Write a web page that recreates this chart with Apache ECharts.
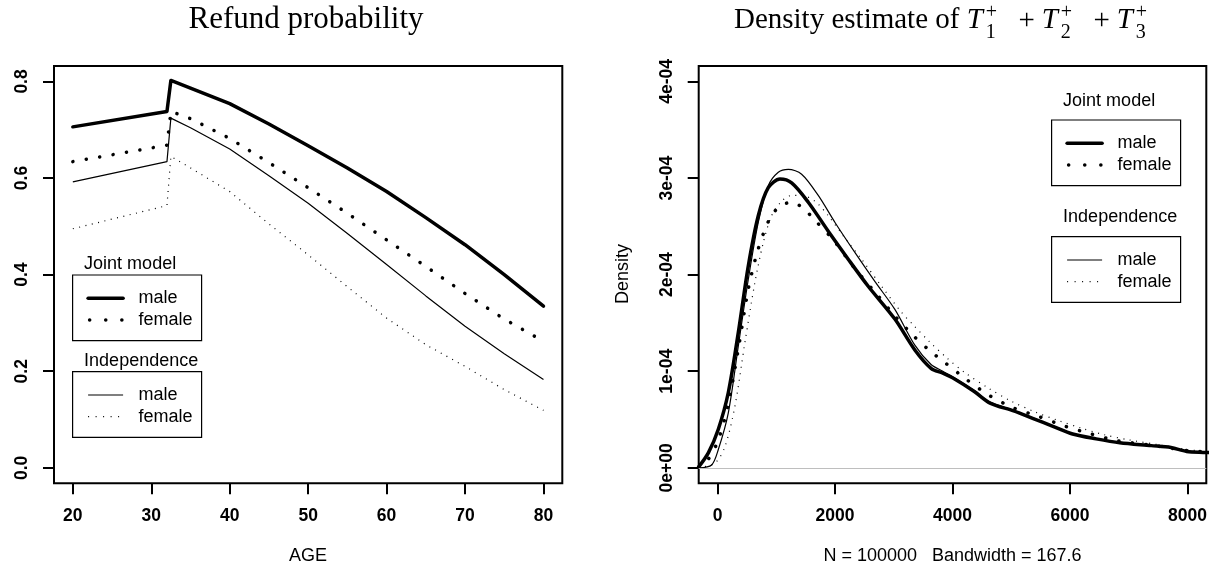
<!DOCTYPE html>
<html><head><meta charset="utf-8">
<script src="https://cdn.jsdelivr.net/npm/echarts@6/dist/echarts.min.js"></script>
<style>html,body{margin:0;padding:0;background:#fff}#c{width:1218px;height:575px}</style>
</head><body><div id="c"></div>
<script>
// ---------- data ----------
const ageTicks = [20, 30, 40, 50, 60, 70, 80];
const probTicks = [0, 0.2, 0.4, 0.6, 0.8];
const probTickLabels = ['0.0', '0.2', '0.4', '0.6', '0.8'];
const amountTicks = [0, 2000, 4000, 6000, 8000];
const amountTickLabels = ['0', '2000', '4000', '6000', '8000'];
const densityTicks = [0, 1e-4, 2e-4, 3e-4, 4e-4];
const densityTickLabels = ['0e+00', '1e-04', '2e-04', '3e-04', '4e-04'];

const ages = [20, 32, 32.5, 35, 40, 45, 50, 55, 60, 65, 70, 75, 80];
const refundJointMale   = [0.706, 0.738, 0.802, 0.786, 0.754, 0.712, 0.667, 0.621, 0.572, 0.518, 0.462, 0.400, 0.335];
const refundJointFemale = [0.634, 0.668, 0.738, 0.723, 0.682, 0.632, 0.580, 0.527, 0.472, 0.417, 0.361, 0.308, 0.262];
const refundIndMale     = [0.592, 0.634, 0.724, 0.704, 0.660, 0.605, 0.548, 0.485, 0.421, 0.356, 0.293, 0.236, 0.183];
const refundIndFemale   = [0.495, 0.543, 0.645, 0.621, 0.572, 0.505, 0.441, 0.375, 0.310, 0.255, 0.210, 0.162, 0.119];

const densJointMale = [[-320,0.01e-4],[-156,0.155e-4],[14,0.40e-4],[184,0.78e-4],[354,1.40e-4],[524,2.09e-4],[694,2.61e-4],[864,2.90e-4],[1063,2.99e-4],[1262,2.95e-4],[1545,2.75e-4],[1885,2.45e-4],[2225,2.16e-4],[2565,1.88e-4],[3019,1.54e-4],[3359,1.22e-4],[3635,1.03e-4],[3835,0.98e-4],[4036,0.92e-4],[4371,0.79e-4],[4639,0.67e-4],[5040,0.59e-4],[5375,0.51e-4],[5710,0.43e-4],[6044,0.35e-4],[6446,0.30e-4],[6847,0.26e-4],[7383,0.23e-4],[7718,0.21e-4],[7985,0.17e-4],[8320,0.16e-4],[8500,0.15e-4]];
const densIndMale = [[-320,0],[-100,0.03e-4],[14,0.19e-4],[184,0.57e-4],[354,1.26e-4],[524,1.95e-4],[694,2.54e-4],[864,2.92e-4],[1035,3.06e-4],[1205,3.09e-4],[1432,3.04e-4],[1715,2.82e-4],[2000,2.54e-4],[2338,2.23e-4],[2678,1.93e-4],[3019,1.64e-4],[3359,1.27e-4],[3635,1.07e-4],[3835,1.00e-4],[4036,0.93e-4],[4371,0.80e-4],[4639,0.68e-4],[5040,0.595e-4],[5375,0.515e-4],[5710,0.435e-4],[6044,0.355e-4],[6446,0.30e-4],[6847,0.265e-4],[7383,0.23e-4],[7718,0.21e-4],[7985,0.175e-4],[8320,0.16e-4],[8500,0.15e-4]];
const densJointFemale = [[-320,0.005e-4],[-156,0.09e-4],[14,0.29e-4],[184,0.66e-4],[354,1.23e-4],[524,1.85e-4],[666,2.21e-4],[808,2.47e-4],[921,2.61e-4],[1063,2.71e-4],[1273,2.75e-4],[1488,2.67e-4],[1647,2.57e-4],[1970,2.36e-4],[2254,2.13e-4],[2395,2.02e-4],[2707,1.80e-4],[3008,1.58e-4],[3331,1.37e-4],[3600,1.22e-4],[3869,1.09e-4],[4250,0.91e-4],[4625,0.75e-4],[5040,0.62e-4],[5475,0.53e-4],[5924,0.43e-4],[6365,0.35e-4],[6814,0.28e-4],[7383,0.235e-4],[7985,0.18e-4],[8320,0.165e-4],[8500,0.155e-4]];
const densIndFemale = [[-320,0],[-43,0.05e-4],[127,0.22e-4],[297,0.64e-4],[467,1.30e-4],[637,1.92e-4],[779,2.33e-4],[921,2.61e-4],[1091,2.76e-4],[1262,2.82e-4],[1432,2.82e-4],[1659,2.76e-4],[1885,2.61e-4],[2168,2.38e-4],[2452,2.16e-4],[2792,1.88e-4],[3132,1.61e-4],[3331,1.48e-4],[3600,1.31e-4],[3900,1.14e-4],[4200,0.99e-4],[4600,0.83e-4],[5000,0.69e-4],[5400,0.58e-4],[5800,0.49e-4],[6200,0.41e-4],[6600,0.34e-4],[7000,0.29e-4],[7500,0.24e-4],[8000,0.19e-4],[8320,0.17e-4],[8500,0.16e-4]];

const titleLeft = 'Refund probability';
const titleRightText = 'Density estimate of ';
const xNameLeft = 'AGE';
const xNameRight = 'N = 100000   Bandwidth = 167.6';
const yNameRight = 'Density';
const legendTitles = ['Joint model', 'Independence'];
const legendEntries = ['male', 'female'];

// ---------- styles ----------
const SANS = '"Liberation Sans", Arial, sans-serif';
const SERIF = '"Liberation Serif", "Times New Roman", serif';
const thickSolid = {color:'#000', width:3.5, type:'solid', cap:'round', join:'round'};
const thickDot = {color:'#000', width:3.5, type:[0.1, 13.5], cap:'round'};
const thinSolid = {color:'#000', width:1.2, type:'solid'};
const thinDot = {color:'#000', width:1.2, type:[1, 5.5]};

function zip(xs, ys){ return xs.map((x,i)=>[x, ys[i]]); }
function labelFrom(vals, labs){ return v => { const i = vals.findIndex(t => Math.abs(t - v) < 1e-9 * Math.max(1, Math.abs(t))); return i >= 0 ? labs[i] : ''; }; }

const tickStyle = {show:true, length:11, inside:false, lineStyle:{color:'#000', width:2}};
const labelStyle = {color:'#000', fontFamily:SANS, fontSize:17.5, fontWeight:'bold', margin:24};

function xAxisDef(grid, min, max, ticks, labs){
  return {type:'value', gridIndex:grid, min, max, position:'bottom',
    axisLine:{show:false, onZero:false}, splitLine:{show:false},
    axisTick:Object.assign({customValues:ticks}, tickStyle),
    axisLabel:Object.assign({customValues:ticks, formatter:labelFrom(ticks, labs)}, labelStyle)};
}
function yAxisDef(grid, min, max, ticks, labs){
  return {type:'value', gridIndex:grid, min, max, position:'left',
    axisLine:{show:false, onZero:false}, splitLine:{show:false},
    axisTick:Object.assign({customValues:ticks}, tickStyle),
    axisLabel:Object.assign({customValues:ticks, rotate:90, formatter:labelFrom(ticks, labs)}, labelStyle, {margin:23})};
}
function line(name, xi, data, ls, smooth){
  return {name, type:'line', xAxisIndex:xi, yAxisIndex:xi, data, showSymbol:false, symbol:'none',
    smooth: smooth ? 0.3 : false,
    lineStyle:ls, clip:true, silent:true, animation:false, z:3};
}

// ---------- graphics (titles, axis names, legends) ----------
const ctx = document.createElement('canvas').getContext('2d');
function tw(t, f){ ctx.font = f; return ctx.measureText(t).width; }
const g = [];
function txt(x, y, t, font, align, valign, rot){
  g.push({type:'text', x, y, rotation: rot || 0, silent:true, z:10,
    style:{text:t, font, fill:'#000', textAlign:align || 'left', textVerticalAlign:valign || 'middle'}});
}
function seg(x1, y1, x2, y2, ls){
  g.push({type:'line', silent:true, z:10, shape:{x1, y1, x2, y2},
    style:{stroke:'#000', lineWidth:ls.width, lineDash: Array.isArray(ls.type) ? ls.type : null, lineCap: ls.cap || 'butt'}});
}
function legendBox(bx, by, titleY, title, styles){
  g.push({type:'rect', silent:true, z:10, shape:{x:bx, y:by, width:129, height:65.7},
    style:{fill:'#fff', stroke:'#000', lineWidth:1.2}});
  txt(bx + 11.5, titleY, title, '18px ' + SANS);
  const ys = [by + 23.3, by + 45];
  styles.forEach((ls, i) => {
    const dotted = Array.isArray(ls.type);
    seg(bx + 15.5 + (dotted && ls.width > 2 ? 1.5 : 0), ys[i], bx + 50.5, ys[i],
        dotted && ls.width > 2 ? Object.assign({}, ls, {type:[0.1, 16]}) : (dotted ? Object.assign({}, ls, {type:[1, 6.5]}) : ls));
    txt(bx + 65.8, ys[i], legendEntries[i], '18px ' + SANS);
  });
}

// titles
txt(306, 20, titleLeft, '31px ' + SERIF, 'center');
(function(){
  const fMain = '29px ' + SERIF, fIt = 'italic 29px ' + SERIF, fScr = '20px ' + SERIF;
  const w0 = tw(titleRightText, fMain);
  const t1 = 966.7;
  txt(t1 - w0, 20, titleRightText, fMain);
  for (let i = 0; i < 3; i++){
    const tx = t1 + i * 75;
    txt(tx, 20, 'T', fIt);
    txt(tx + 19, 12.5, '+', fScr);
    txt(tx + 19, 32.5, String(i + 1), fScr);
    if (i < 2) txt(tx + 60, 21, '+', fMain, 'center');
  }
})();

// axis names
txt(308, 556, xNameLeft, '18px ' + SANS, 'center');
txt(952.5, 556, xNameRight, '18px ' + SANS, 'center');
txt(623, 274, yNameRight, '18px ' + SANS, 'center', 'middle', Math.PI / 2);

// legends
legendBox(72.6, 275, 264, legendTitles[0], [thickSolid, thickDot]);
legendBox(72.6, 371.7, 361, legendTitles[1], [thinSolid, thinDot]);
legendBox(1051.6, 120, 101, legendTitles[0], [thickSolid, thickDot]);
legendBox(1051.6, 236.7, 216.7, legendTitles[1], [thinSolid, thinDot]);

// ---------- chart ----------
const chart = echarts.init(document.getElementById('c'), null, {renderer:'canvas'});
chart.setOption({
  animation:false,
  backgroundColor:'#fff',
  grid:[
    {left:54, top:66, width:508.3, height:417.3, show:true, borderColor:'#000', borderWidth:2, backgroundColor:'transparent'},
    {left:698.7, top:66, width:507.6, height:417.3, show:true, borderColor:'#000', borderWidth:2, backgroundColor:'transparent'}
  ],
  xAxis:[
    xAxisDef(0, 17.6, 82.4, ageTicks, ageTicks.map(String)),
    xAxisDef(1, -320, 8320, amountTicks, amountTickLabels)
  ],
  yAxis:[
    yAxisDef(0, -0.032, 0.832, probTicks, probTickLabels),
    yAxisDef(1, -0.16e-4, 4.16e-4, densityTicks, densityTickLabels)
  ],
  series:[
    line('Joint male', 0, zip(ages, refundJointMale), thickSolid, false),
    line('Joint female', 0, zip(ages, refundJointFemale), thickDot, false),
    line('Independence male', 0, zip(ages, refundIndMale), thinSolid, false),
    line('Independence female', 0, zip(ages, refundIndFemale), thinDot, false),
    {type:'line', xAxisIndex:1, yAxisIndex:1, data:[], silent:true, z:1,
      markLine:{silent:true, symbol:['none','none'], label:{show:false}, animation:false,
        lineStyle:{color:'#bebebe', width:1.2, type:'solid'}, data:[{yAxis:0}]}},
    line('Independence female d', 1, densIndFemale, thinDot, true),
    line('Independence male d', 1, densIndMale, thinSolid, true),
    line('Joint female d', 1, densJointFemale, thickDot, true),
    line('Joint male d', 1, densJointMale, thickSolid, true)
  ],
  graphic:{elements:g}
});
</script></body></html>
